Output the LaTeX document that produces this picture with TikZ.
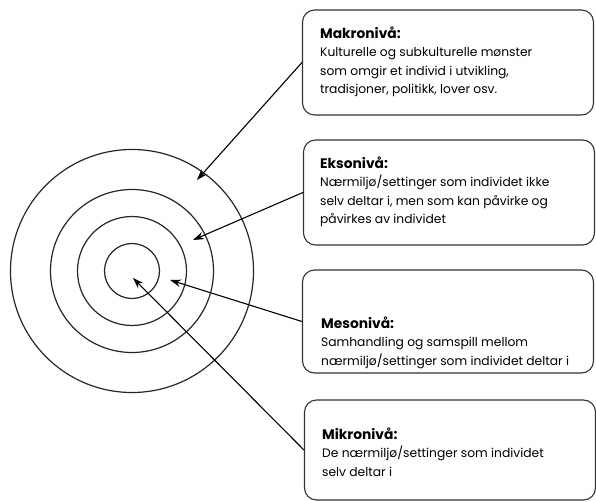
\documentclass[tikz,border=0pt]{standalone}
\usepackage{fontspec}
\setmainfont{Poppins}
\usetikzlibrary{positioning,arrows.meta}

\begin{document}
\begin{tikzpicture}[x=1pt, y=-1pt, line join=round, line cap=round, >={Stealth[length=11pt,width=7.5pt]},
		ring/.style={draw=black!85, line width=1.2pt},
		levelbox/.style={draw=black!80, line width=1.1pt, rounded corners=12pt, minimum width=291pt, inner sep=0pt},
		leveltext/.style={align=left, inner sep=0pt, font=\fontsize{12.3}{18.5}\selectfont},
		levelarrow/.style={->, line width=1.1pt}]
			\useasboundingbox (0,0) rectangle (596,502);
			
			\coordinate (O) at (132,271);
			\foreach \r in {27.5,54.5,81.5,121.5}
				\draw[ring] (O) circle (\r pt);
			
			\node[levelbox, minimum height=105pt] (makro) at (448,62.5) {};
			\node[levelbox, minimum height=105pt] (ekso) at (449,192.5) {};
			\node[levelbox, minimum height=103pt] (meso) at (448,321.5) {};
			\node[levelbox, minimum height=100pt] (mikro) at (450,450) {};
			
			\node[leveltext, below right=17pt and 18pt of makro.north west] (makrotxt) {{\bfseries\fontsize{13.8}{18.5}\selectfont Makronivå:}\\Kulturelle og subkulturelle mønster\\som omgir et individ i utvikling,\\tradisjoner, politikk, lover osv.};
			\node[leveltext, below right=17pt and 17pt of ekso.north west] (eksotxt) {{\bfseries\fontsize{13.8}{18.5}\selectfont Eksonivå:}\\Nærmiljø/settinger som individet ikke\\selv deltar i, men som kan påvirke og\\påvirkes av individet};
			\node[leveltext, below right=47pt and 19pt of meso.north west] (mesotxt) {{\bfseries\fontsize{13.8}{18.5}\selectfont Mesonivå:}\\Samhandling og samspill mellom\\nærmiljø/settinger som individet deltar i};
			\node[leveltext, below right=28pt and 18pt of mikro.north west] (mikrotxt) {{\bfseries\fontsize{13.8}{18.5}\selectfont Mikronivå:}\\De nærmiljø/settinger som individet\\selv deltar i};
			
			\coordinate (tipmakro) at (197,180);
			\coordinate (tipekso) at (193,240);
			\coordinate (tipmeso) at (170,280);
			\coordinate (tipmikro) at (133,278);
			
			\draw[levelarrow] (makro.west) -- (tipmakro);
			\draw[levelarrow] (ekso.west) -- (tipekso);
			\draw[levelarrow] (meso.west) -- (tipmeso);
			\draw[levelarrow] (mikro.west) -- (tipmikro);
		\end{tikzpicture}
\end{document}
